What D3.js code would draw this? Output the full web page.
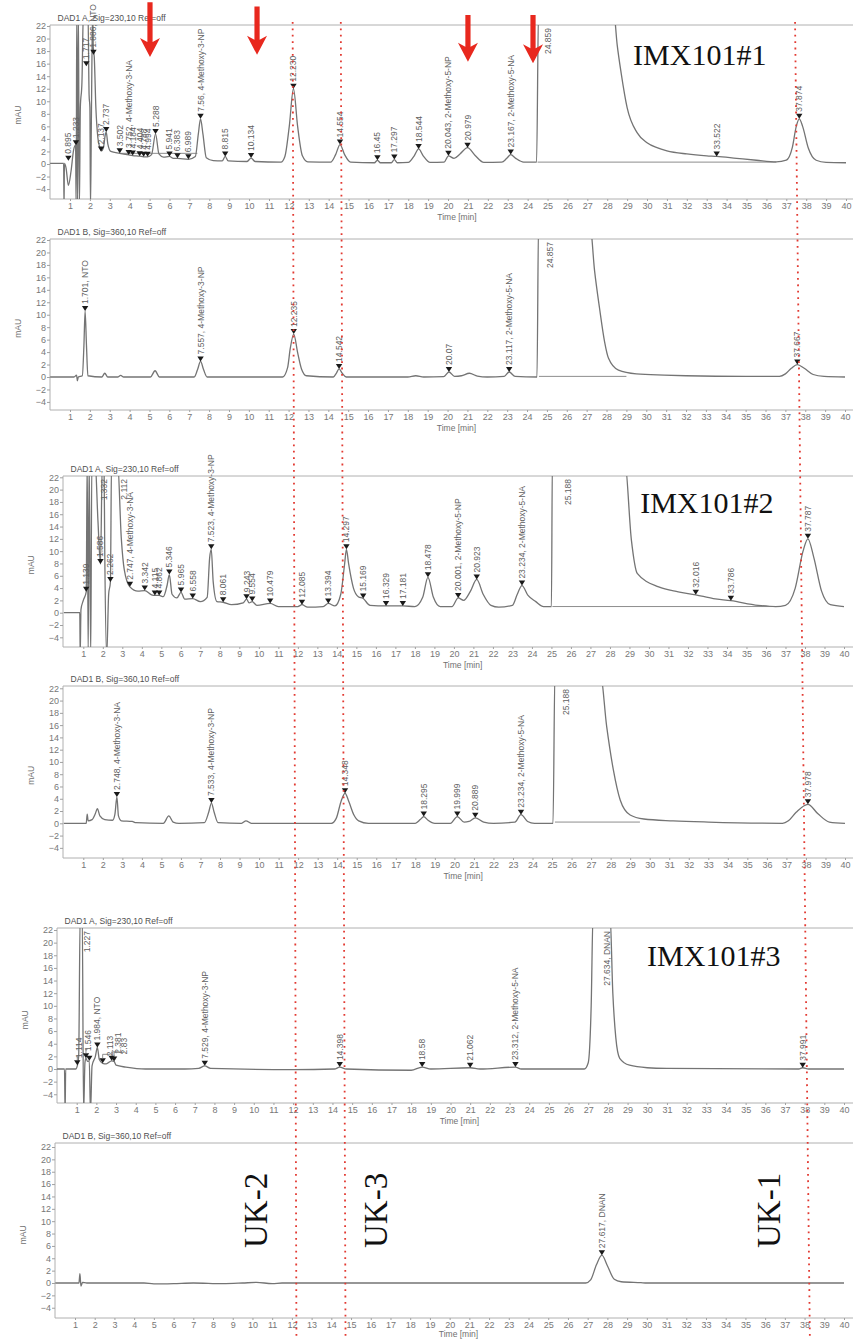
<!DOCTYPE html>
<html>
<head>
<meta charset="utf-8">
<style>
body { margin: 0; background: #fff; }
svg { font-family: "Liberation Sans", Arial, sans-serif; }
.frame { stroke: #b0b0b0; stroke-width: 1px; }
.axis .domain { display: none; }
.axis line { stroke: #a0a0a0; }
.axis text { font-family: "Liberation Sans", Arial, sans-serif; font-size: 9px; fill: #777; }
.trace { fill: none; stroke: #747474; stroke-width: 1.3px; }
.base { fill: none; stroke: #808080; stroke-width: 0.9px; }
.peak-label { font-size: 8.5px; fill: #606060; }
.title { font-size: 8.5px; fill: #505050; }
.unit { font-size: 8.5px; fill: #707070; }
.marker { fill: #1a1a1a; }
.redline { stroke: #e23a32; stroke-width: 1.8px; stroke-dasharray: 1.8,4.6; }
.arrow { fill: #e8281e; }
.sample { font-family: "Liberation Serif", "Times New Roman", serif; font-size: 30px; fill: #111; }
.uk { font-family: "Liberation Serif", "Times New Roman", serif; font-size: 33px; fill: #111; }
</style>
</head>
<body>
<svg id="chart" width="853" height="1340"></svg>
<script src="https://d3js.org/d3.v7.min.js"></script>
<script>
var W = 853, H = 1340;

// tick labels
var timeTicks = [1,2,3,4,5,6,7,8,9,10,11,12,13,14,15,16,17,18,19,20,21,22,23,24,25,26,27,28,29,30,31,32,33,34,35,36,37,38,39,40];
var mauTicks = [-4,-2,0,2,4,6,8,10,12,14,16,18,20,22];

var panelTitles = [
  "DAD1 A, Sig=230,10 Ref=off",
  "DAD1 B, Sig=360,10 Ref=off",
  "DAD1 A, Sig=230,10 Ref=off",
  "DAD1 B, Sig=360,10 Ref=off",
  "DAD1 A, Sig=230,10 Ref=off",
  "DAD1 B, Sig=360,10 Ref=off"
];

// traces: [time min, mAU] (25 / -7 = off scale)
var trace1 = [[0,0.1],[0.68,0.1],[0.70,-7],[0.72,0.1],[0.8,-0.6],[0.92,-3.4],[1.05,-1.2],[1.18,2.2],[1.28,3.0],[1.31,-7],[1.34,25],[1.38,-7],[1.42,25],[1.47,-7],[1.52,9],[1.6,13],[1.68,25],[1.9,25],[1.96,11],[2.0,9],[2.03,-7],[2.08,9],[2.14,25],[2.17,18.5],[2.22,17],[2.3,9],[2.4,4.2],[2.5,2.6],[2.58,2.1],[2.68,2.6],[2.77,4.6],[2.82,5.1],[2.9,3.2],[3.05,2.0],[3.5,1.7],[3.95,1.45],[4.15,1.35],[4.5,1.25],[4.7,1.15],[4.9,1.15],[5.1,1.5],[5.3,4.8],[5.47,1.6],[5.7,1.1],[6.0,1.2],[6.2,0.9],[6.4,0.9],[6.95,0.75],[7.3,1.2],[7.45,4.8],[7.56,7.2],[7.68,4.8],[7.85,1.0],[8.2,0.55],[8.65,0.5],[8.8,1.2],[8.95,0.5],[9.9,0.4],[10.1,0.95],[10.3,0.4],[11.6,0.3],[11.8,1.2],[12.02,6.0],[12.23,12.0],[12.44,6.0],[12.68,1.3],[12.95,0.35],[14.1,0.3],[14.35,1.5],[14.57,3.1],[14.8,1.5],[15.1,0.3],[16.3,0.2],[16.45,0.6],[16.6,0.2],[17.15,0.2],[17.3,0.7],[17.45,0.2],[18.0,0.25],[18.3,1.3],[18.52,2.4],[18.75,1.3],[19.1,0.25],[19.8,0.3],[20.02,1.3],[20.3,0.9],[20.6,1.6],[20.98,2.6],[21.35,1.4],[21.8,0.25],[22.7,0.3],[22.95,0.9],[23.15,1.5],[23.4,0.9],[23.8,0.3],[24.45,0.3],[24.55,25],[28.3,25],[28.5,19],[28.7,14.5],[29.0,9],[29.5,5.0],[30.0,3.4],[30.5,2.6],[31.0,2.1],[32.0,1.6],[33.0,1.3],[33.5,1.2],[34.5,0.9],[35.5,0.6],[36.5,0.35],[37.0,0.6],[37.3,2.6],[37.5,6.0],[37.65,7.2],[37.82,6.0],[38.1,2.6],[38.5,0.6],[39.0,0.25],[40.0,0.2]];
var trace2 = [[0,0],[1.2,0],[1.33,0.3],[1.37,-0.6],[1.42,0],[1.62,0.2],[1.7,5],[1.76,10.6],[1.83,5],[1.9,0.2],[2.6,0],[2.75,0.6],[2.9,0],[3.4,0],[3.55,0.25],[3.7,0],[5.05,0],[5.28,1.0],[5.5,0],[7.25,0],[7.42,1.2],[7.57,2.5],[7.72,1.2],[7.9,0],[11.7,0],[11.95,1.5],[12.08,4.5],[12.26,6.9],[12.45,4.0],[12.65,1.3],[12.9,0.2],[14.25,0],[14.4,0.6],[14.54,1.3],[14.7,0.6],[14.9,0],[18.0,0],[18.4,0.2],[18.8,0],[19.8,0.05],[20.07,0.8],[20.35,0.1],[20.7,0.2],[21.1,0.6],[21.5,0.15],[22.0,0],[22.85,0.1],[23.1,0.8],[23.4,0.1],[24.5,0],[24.58,25],[27.15,25],[27.4,17],[27.65,11],[27.9,5.7],[28.1,3],[28.6,1.1],[29.5,0.5],[30.9,0.3],[32,0.2],[35,0.1],[36.7,0.1],[37.0,0.5],[37.3,1.4],[37.6,2.0],[37.95,1.4],[38.4,0.4],[38.95,0.1],[40,0]];
var trace3 = [[0,0],[0.82,0],[0.84,-7],[0.88,0.5],[1.0,2],[1.15,3.4],[1.2,25],[1.25,-7],[1.3,25],[1.38,-7],[1.44,25],[1.6,25],[1.75,15],[1.88,7.9],[1.98,25],[2.06,25],[2.1,10],[2.2,-7],[2.3,3],[2.39,5.0],[2.45,25],[2.75,25],[2.95,12],[3.1,7],[3.39,4.2],[3.8,3.5],[4.15,3.6],[4.5,2.9],[4.67,2.8],[4.89,2.8],[5.1,2.6],[5.3,4.5],[5.41,6.2],[5.55,3.0],[5.8,2.4],[6.01,3.3],[6.2,2.2],[6.61,2.3],[7.0,1.8],[7.35,2.5],[7.48,9],[7.56,10.3],[7.66,5],[7.85,1.8],[8.17,1.7],[8.6,1.3],[9.2,1.6],[9.37,2.2],[9.5,1.6],[9.66,1.8],[9.9,1.2],[10.58,1.5],[11,1.0],[12.0,1.0],[12.21,1.3],[12.5,0.9],[13.3,1.0],[13.56,1.5],[13.9,1.1],[14.2,3],[14.4,8],[14.49,10.3],[14.6,8],[14.85,4],[15.1,2.6],[15.35,2.3],[15.7,1.2],[16.52,1.1],[17.38,1.1],[18.0,1.0],[18.4,2.5],[18.67,5.75],[18.95,2.5],[19.3,1.0],[19.9,1.0],[20.22,2.4],[20.5,2.0],[20.85,3.5],[21.17,5.4],[21.5,3.0],[21.9,1.2],[22.3,0.9],[23.0,1.2],[23.25,3],[23.49,4.4],[23.8,2.8],[24.2,1.8],[24.6,1.0],[25.0,1.0],[25.05,25],[28.75,25],[29.1,11.8],[29.4,6.4],[30.5,4.2],[31.5,3.4],[32.4,2.9],[33.3,2.3],[34.2,1.95],[35.6,1.2],[36.5,1.0],[37.0,1.2],[37.5,4],[37.9,10],[38.15,12.0],[38.45,9],[38.85,3.5],[39.3,1.3],[40,1.0]];
var trace4 = [[0,0],[1.15,0],[1.2,1.5],[1.25,0.4],[1.45,0.6],[1.62,1.6],[1.72,2.4],[1.85,1.2],[2.1,0.6],[2.5,0.5],[2.62,1.5],[2.72,4.3],[2.8,1.2],[2.95,0.4],[3.5,0.3],[3.7,0.1],[5.1,0],[5.38,1.2],[5.6,0.2],[5.9,0],[7.2,0.1],[7.42,1.8],[7.56,3.3],[7.7,1.8],[7.9,0.1],[9.1,0],[9.33,0.4],[9.6,0],[13.7,0],[13.95,0.8],[14.2,3.6],[14.4,4.9],[14.6,3.5],[14.85,1.4],[15.1,0.4],[15.6,0],[18.0,0],[18.25,0.6],[18.43,1.1],[18.65,0.5],[19.0,0],[19.8,0],[20.15,1.1],[20.5,0.2],[20.75,0.3],[21.07,0.9],[21.5,0.2],[22,0],[23.1,0.2],[23.41,1.4],[23.75,0.3],[24.1,0],[25.05,0],[25.15,25],[27.45,25],[27.8,15.7],[28.14,8.7],[28.49,3.8],[29.0,1.35],[29.7,0.7],[31.2,0.4],[33,0.2],[36.8,0],[37.1,0.4],[37.5,1.8],[38.1,3.1],[38.6,1.6],[39.2,0.2],[40,0]];
var trace5 = [[0,0],[0.38,0],[0.41,-7],[0.44,0],[0.95,0],[1.03,0.5],[1.1,2],[1.18,25],[1.28,25],[1.35,-7],[1.42,1],[1.47,1.7],[1.55,1.2],[1.64,1.3],[1.7,-7],[1.78,0.5],[1.95,2],[2.05,3.4],[2.15,1.5],[2.32,0.9],[2.5,0.8],[2.78,1.3],[2.9,1.2],[3.0,0.6],[3.5,0.3],[4.5,0],[6.5,0],[7.2,0.1],[7.51,0.5],[7.8,0.1],[12,-0.1],[14.1,0],[14.37,0.3],[14.7,0],[18.0,-0.2],[18.56,0.3],[19,0],[21.0,0.2],[21.5,0],[23.3,0.3],[23.6,0],[26.8,0],[27.0,1],[27.15,10],[27.25,25],[28.1,25],[28.25,12],[28.4,5],[28.6,1.7],[29.1,0.6],[30,0.2],[31,0.1],[37.7,0],[37.9,0.2],[38.2,0],[40,0]];
var trace6 = [[0,0],[1.2,0],[1.25,1.5],[1.3,-0.5],[1.38,0.1],[1.6,0],[4.5,0],[5.0,-0.15],[6.0,-0.1],[7,0],[8.5,-0.1],[9.5,0],[10.2,0.1],[11,-0.1],[11.5,0],[26.9,0],[27.15,0.5],[27.45,3],[27.72,4.5],[28.0,2.8],[28.35,0.6],[28.7,0.2],[29.7,0.05],[30,0],[40,0]];

// integrated peaks: [time, apex mAU, label, label time (optional)]
var peaks1 = [[0.92,0.5,"0.895"],[1.30,3.0,"1.233"],[1.82,15.6,"1.717"],[2.18,17.4,"1.886, NTO"],[2.56,2.0,"2.137"],[2.82,5.1,"2.737"],[3.5,1.7,"3.502"],[3.95,1.45,"3.752, 4-Methoxy-3-NA"],[4.15,1.35,"4.184"],[4.5,1.25,"4.404"],[4.7,1.15,"4.788"],[4.9,1.15,"4.994"],[5.30,4.8,"5.288"],[6.0,1.2,"5.941"],[6.4,0.9,"6.383"],[6.95,0.75,"6.989"],[7.56,7.2,"7.56, 4-Methoxy-3-NP"],[8.8,1.2,"8.815"],[10.1,0.95,"10.134"],[12.23,12.0,"12.230"],[14.57,3.1,"14.554"],[16.45,0.6,"16.45"],[17.3,0.7,"17.297"],[18.52,2.4,"18.544"],[20.02,1.3,"20.043, 2-Methoxy-5-NP"],[20.98,2.6,"20.979"],[23.15,1.5,"23.167, 2-Methoxy-5-NA"],[33.5,1.2,"33.522"],[37.65,7.2,"37.874"]];
var peaks2 = [[1.76,10.6,"1.701, NTO"],[7.57,2.5,"7.557, 4-Methoxy-3-NP"],[12.26,6.9,"12.235"],[14.54,1.3,"14.542"],[20.07,0.8,"20.07"],[23.1,0.8,"23.117, 2-Methoxy-5-NA"],[37.6,2.0,"37.667"]];
var peaks3 = [[1.15,3.4,"1.139"],[1.88,7.9,"1.586"],[2.39,5.0,"2.262"],[3.39,4.2,"2.747, 4-Methoxy-3-NA"],[4.15,3.6,"3.342"],[4.67,2.8,"4.115"],[4.89,2.8,"4.862"],[5.41,6.2,"5.346"],[6.01,3.3,"5.965"],[6.61,2.3,"6.558"],[7.56,10.3,"7.523, 4-Methoxy-3-NP"],[8.17,1.7,"8.061"],[9.37,2.2,"9.243"],[9.66,1.8,"9.554"],[10.58,1.5,"10.479"],[12.21,1.3,"12.085"],[13.56,1.5,"13.394"],[14.49,10.3,"14.297"],[15.35,2.3,"15.169"],[16.52,1.1,"16.329"],[17.38,1.1,"17.181"],[18.67,5.75,"18.478"],[20.22,2.4,"20.001, 2-Methoxy-5-NP"],[21.17,5.4,"20.923"],[23.49,4.4,"23.234, 2-Methoxy-5-NA"],[32.4,2.9,"32.016"],[34.2,1.95,"33.786"],[38.15,12.0,"37.787"]];
var peaks4 = [[2.72,4.3,"2.748, 4-Methoxy-3-NA"],[7.56,3.3,"7.533, 4-Methoxy-3-NP"],[14.4,4.9,"14.348"],[18.43,1.1,"18.295"],[20.15,1.1,"19.999"],[21.07,0.9,"20.889"],[23.41,1.4,"23.234, 2-Methoxy-5-NA"],[38.1,3.1,"37.978"]];
var peaks5 = [[1.03,0.6,"1.114",1.13],[1.47,1.7,"1.546",1.55],[1.64,1.3,""],[2.05,3.4,"1.984, NTO"],[2.32,0.9,"2.113",2.7],[2.78,1.3,"2.381",3.1],[2.9,1.2,"2.83",3.4],[7.51,0.5,"7.529, 4-Methoxy-3-NP"],[14.37,0.3,"14.398"],[18.56,0.3,"18.58"],[21.0,0.2,"21.062"],[23.3,0.3,"23.312, 2-Methoxy-5-NA"],[37.9,0.2,"37.991"]];
var peaks6 = [[27.72,4.5,"27.617, DNAN"]];

// labels of off-scale peaks, written down from the top edge: [label time, label]
var over1 = [[25.0,"24.859"]];
var over2 = [[25.15,"24.857"]];
var over3 = [[2.08,"1.332"],[3.07,"2.112"],[25.85,"25.188"]];
var over4 = [[25.7,"25.188"]];
var over5 = [[1.54,"1.227"],[27.97,"27.634, DNAN"]];
var over6 = [];

// drawn baselines: [[t,mAU],[t,mAU]]
var base1 = [[[3.5,1.7],[7.4,1.7]],[[24.5,0.3],[36.5,0.3]]];
var base2 = [[[24.6,0.1],[29,0.1]]];
var base3 = [[[25.05,1.0],[36.5,1.0]]];
var base4 = [[[25.15,0.2],[29.5,0.2]]];
var base5 = [];
var base6 = [];

// annotations
var sampleNames = ["IMX101#1","IMX101#2","IMX101#3"];
var samplePanels = [0,2,4];
var sampleTimes = [29.3,29.55,29.99];
var sampleMau = [15.8,16.2,16.3];

var ukNames = ["UK-2","UK-3","UK-1"];
var ukTimes = [10.74,16.82,36.75];
var ukMau = [5.66,5.66,5.66];

// red arrows on first chart: time, shaft top mAU, tip mAU
var arrowTimes = [5.02,10.4,21.0,24.27];
var arrowTop = [25.8,25.1,23.75,23.75];
var arrowTip = [17.05,17.4,16.3,16.05];

// red dotted guide lines: time at top chart, time at bottom chart
var guideTop = [12.19,14.61,37.44];
var guideBottom = [12.23,14.72,38.27];

var traces = [trace1,trace2,trace3,trace4,trace5,trace6];
var peaks = [peaks1,peaks2,peaks3,peaks4,peaks5,peaks6];
var overs = [over1,over2,over3,over4,over5,over6];
var bases = [base1,base2,base3,base4,base5,base6];

// page geometry of each chart
var layout = [
  {left:50, top:25,   bottom:199,  x1:70,   x40:846, y0:164,   y22:26},
  {left:50, top:239,  bottom:410,  x1:70,   x40:845, y0:377,   y22:240},
  {left:63, top:476,  bottom:647,  x1:83.3, x40:844, y0:612.7, y22:477.3},
  {left:63, top:686,  bottom:858,  x1:83.3, x40:845, y0:823.3, y22:688.3},
  {left:57, top:928,  bottom:1103, x1:76.7, x40:844, y0:1069,  y22:930},
  {left:55, top:1143, bottom:1318, x1:75,   x40:844, y0:1283,  y22:1147}
];

var svg = d3.select("#chart");
svg.append("rect").attr("width", W).attr("height", H).attr("fill", "#fff");

layout.forEach(function(p, i){
  var x = d3.scaleLinear().domain([1,40]).range([p.x1, p.x40]);
  var y = d3.scaleLinear().domain([0,22]).range([p.y0, p.y22]);
  p.x = x; p.y = y;

  var g = svg.append("g");

  svg.append("clipPath").attr("id", "clip" + i)
    .append("rect")
      .attr("x", p.left).attr("y", p.top)
      .attr("width", W - p.left).attr("height", p.bottom - p.top);

  // frame
  g.append("line").attr("class", "frame")
      .attr("x1", p.left).attr("x2", W).attr("y1", p.top).attr("y2", p.top);
  g.append("line").attr("class", "frame")
      .attr("x1", p.left).attr("x2", p.left).attr("y1", p.top).attr("y2", p.bottom);
  g.append("line").attr("class", "frame")
      .attr("x1", p.left).attr("x2", W).attr("y1", p.bottom).attr("y2", p.bottom);

  g.append("g")
      .attr("class", "axis")
      .attr("transform", "translate(" + p.left + ",0)")
      .call(d3.axisLeft(y).tickValues(mauTicks).tickSize(3).tickPadding(1));

  g.append("g")
      .attr("class", "axis")
      .attr("transform", "translate(0," + p.bottom + ")")
      .call(d3.axisBottom(x).tickValues(timeTicks).tickSize(2).tickPadding(1.5));

  g.append("text").attr("class", "title")
      .attr("x", p.left + 7.5).attr("y", p.top - 4.5)
      .text(panelTitles[i]);

  g.append("text").attr("class", "unit")
      .attr("transform", "translate(" + (p.left - 29) + "," + y(7.8) + ") rotate(-90)")
      .attr("text-anchor", "middle")
      .text("mAU");

  g.append("text").attr("class", "unit")
      .attr("x", x(20.45)).attr("y", Math.min(p.bottom + 21, H - 3))
      .attr("text-anchor", "middle")
      .text("Time [min]");

  var plot = g.append("g").attr("clip-path", "url(#clip" + i + ")");

  var line = d3.line()
      .x(function(d){ return x(d[0]); })
      .y(function(d){ return y(d[1]); });

  bases[i].forEach(function(seg){
    plot.append("path").attr("class", "base").attr("d", line(seg));
  });

  plot.append("path")
      .attr("class", "trace")
      .attr("d", line.curve(d3.curveMonotoneX)(traces[i]));

  // peak markers and labels
  peaks[i].forEach(function(d){
    var px = x(d[0]), py = y(d[1]);
    g.append("path").attr("class", "marker")
        .attr("d", "M" + (px - 3.2) + "," + (py - 5) + "L" + (px + 3.2) + "," + (py - 5) + "L" + px + "," + py + "Z");
    if (!d[2]) return;
    var lx = d.length > 3 ? x(d[3]) : px;
    if (d.length > 3) {
      g.append("path").attr("class", "base")
          .attr("d", "M" + px + "," + (py - 5) + "L" + px + "," + (py - 9) + "L" + lx + "," + (py - 9));
    }
    g.append("text").attr("class", "peak-label")
        .attr("transform", "translate(" + (lx + 3) + "," + (py - 7) + ") rotate(-90)")
        .text(d[2]);
  });

  overs[i].forEach(function(d){
    g.append("text").attr("class", "peak-label")
        .attr("transform", "translate(" + (x(d[0]) + 3) + "," + (p.top + 3) + ") rotate(-90)")
        .attr("text-anchor", "end")
        .text(d[1]);
  });
});

// sample names
sampleNames.forEach(function(s, k){
  var p = layout[samplePanels[k]];
  svg.append("text").attr("class", "sample")
      .attr("x", p.x(sampleTimes[k])).attr("y", p.y(sampleMau[k]))
      .text(s);
});

// unknown peaks marked in the last chart
var last = layout[5];
ukNames.forEach(function(s, k){
  svg.append("text").attr("class", "uk")
      .attr("transform", "translate(" + last.x(ukTimes[k]) + "," + last.y(ukMau[k]) + ") rotate(-90)")
      .text(s);
});

// red dotted guides across all charts
var first = layout[0];
guideTop.forEach(function(t, k){
  svg.append("line").attr("class", "redline")
      .attr("x1", first.x(t)).attr("y1", first.top - 3)
      .attr("x2", last.x(guideBottom[k])).attr("y2", H);
});

// red arrows
arrowTimes.forEach(function(t, k){
  var ax = first.x(t), ay0 = first.y(arrowTop[k]), ay1 = first.y(arrowTip[k]);
  var hw = 10, hh = 19, sw = 2.6;
  svg.append("path").attr("class", "arrow")
      .attr("d", "M" + (ax - sw) + "," + ay0 + "L" + (ax + sw) + "," + ay0 +
                 "L" + (ax + sw) + "," + (ay1 - hh + 4) + "L" + (ax + hw) + "," + (ay1 - hh) +
                 "L" + ax + "," + ay1 + "L" + (ax - hw) + "," + (ay1 - hh) +
                 "L" + (ax - sw) + "," + (ay1 - hh + 4) + "Z");
});
</script>
</body>
</html>
